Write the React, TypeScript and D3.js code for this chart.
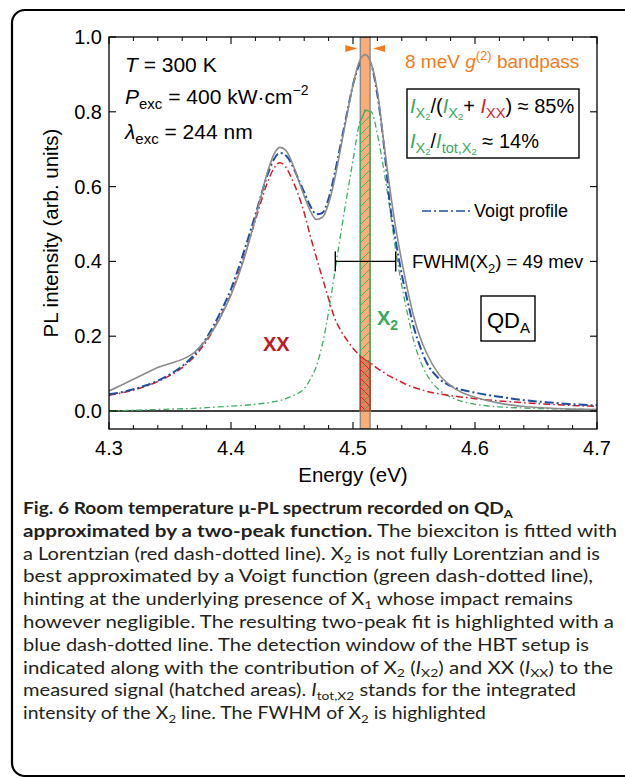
import React from 'react';
import * as d3 from 'd3';

// ---------- data ----------
const energy = [4.30, 4.31, 4.32, 4.33, 4.34, 4.35, 4.36, 4.37, 4.38, 4.39, 4.40, 4.41, 4.42, 4.43, 4.435, 4.44, 4.445, 4.45, 4.455, 4.46, 4.465, 4.47, 4.475, 4.48, 4.485, 4.49, 4.495, 4.50, 4.505, 4.51, 4.515, 4.52, 4.525, 4.53, 4.535, 4.54, 4.545, 4.55, 4.555, 4.56, 4.57, 4.58, 4.59, 4.60, 4.62, 4.64, 4.66, 4.68, 4.70];
const measured = [0.054, 0.069, 0.085, 0.101, 0.116, 0.127, 0.138, 0.157, 0.192, 0.242, 0.31, 0.40, 0.515, 0.64, 0.685, 0.705, 0.697, 0.665, 0.62, 0.575, 0.535, 0.512, 0.518, 0.555, 0.62, 0.705, 0.79, 0.872, 0.933, 0.953, 0.928, 0.855, 0.725, 0.60, 0.49, 0.40, 0.32, 0.25, 0.197, 0.157, 0.10, 0.068, 0.048, 0.037, 0.021, 0.012, 0.008, 0.005, 0.004];
const twoPeakFit = [0.045, 0.050, 0.058, 0.068, 0.081, 0.098, 0.12, 0.151, 0.196, 0.255, 0.326, 0.42, 0.525, 0.632, 0.672, 0.69, 0.683, 0.658, 0.622, 0.585, 0.548, 0.526, 0.53, 0.568, 0.635, 0.715, 0.795, 0.872, 0.925, 0.945, 0.925, 0.845, 0.72, 0.56, 0.455, 0.365, 0.29, 0.222, 0.172, 0.132, 0.088, 0.067, 0.056, 0.049, 0.038, 0.029, 0.023, 0.018, 0.015];
const lorentzXX = [0.042, 0.048, 0.056, 0.066, 0.079, 0.095, 0.116, 0.146, 0.187, 0.245, 0.313, 0.405, 0.51, 0.612, 0.648, 0.664, 0.652, 0.62, 0.58, 0.53, 0.468, 0.41, 0.355, 0.30, 0.248, 0.215, 0.19, 0.168, 0.15, 0.137, 0.127, 0.114, 0.104, 0.093, 0.085, 0.077, 0.069, 0.063, 0.058, 0.053, 0.046, 0.041, 0.037, 0.033, 0.027, 0.022, 0.018, 0.015, 0.012];
const voigtX2 = [0.000, 0.001, 0.002, 0.003, 0.004, 0.005, 0.006, 0.007, 0.009, 0.011, 0.013, 0.015, 0.018, 0.022, 0.025, 0.028, 0.033, 0.040, 0.047, 0.06, 0.085, 0.12, 0.18, 0.265, 0.37, 0.475, 0.575, 0.67, 0.765, 0.805, 0.80, 0.74, 0.65, 0.545, 0.43, 0.335, 0.255, 0.185, 0.135, 0.10, 0.058, 0.037, 0.025, 0.018, 0.011, 0.008, 0.006, 0.005, 0.004];

const xMajorTicks = [4.3, 4.4, 4.5, 4.6, 4.7];
const xMinorTicks = [4.32, 4.34, 4.36, 4.38, 4.42, 4.44, 4.46, 4.48, 4.52, 4.54, 4.56, 4.58, 4.62, 4.64, 4.66, 4.68];
const yMajorTicks = [0.0, 0.2, 0.4, 0.6, 0.8, 1.0];

const bandpass = [4.506, 4.514]; // 8 meV window
const fwhmRange = [4.4855, 4.535];
const fwhmLevel = 0.4;

type Seg = { t: string; b?: boolean; i?: boolean; sub?: boolean };
const captionLines: { segs: Seg[]; w: number }[] = [
  { segs: [{ t: 'Fig. 6 Room temperature \u03bc-PL spectrum recorded on QD', b: true }, { t: 'A', b: true, sub: true }], w: 490 },
  { segs: [{ t: 'approximated by a two-peak function.', b: true }, { t: ' The biexciton is fitted with' }], w: 594 },
  { segs: [{ t: 'a Lorentzian (red dash-dotted line). X' }, { t: '2', sub: true }, { t: ' is not fully Lorentzian and is' }], w: 577 },
  { segs: [{ t: 'best approximated by a Voigt function (green dash-dotted line),' }], w: 570 },
  { segs: [{ t: 'hinting at the underlying presence of X' }, { t: '1', sub: true }, { t: ' whose impact remains' }], w: 550 },
  { segs: [{ t: 'however negligible. The resulting two-peak fit is highlighted with a' }], w: 591 },
  { segs: [{ t: 'blue dash-dotted line. The detection window of the HBT setup is' }], w: 566 },
  { segs: [{ t: 'indicated along with the contribution of X' }, { t: '2', sub: true }, { t: ' (' }, { t: 'I', i: true }, { t: 'X2', sub: true }, { t: ') and XX (' }, { t: 'I', i: true }, { t: 'XX', sub: true }, { t: ') to the' }], w: 590 },
  { segs: [{ t: 'measured signal (hatched areas). ' }, { t: 'I', i: true }, { t: 'tot,X2', sub: true }, { t: ' stands for the integrated' }], w: 553 },
  { segs: [{ t: 'intensity of the X' }, { t: '2', sub: true }, { t: ' line. The FWHM of X' }, { t: '2', sub: true }, { t: ' is highlighted' }], w: 463 },
];

// ---------- layout ----------
const W = 625, H = 778;
const plot = { left: 109, right: 597, top: 37, bottom: 429 };
const FONT = '"Liberation Sans", Arial, Helvetica, sans-serif';
const C = {
  gray: '#8c8c8c', blue: '#1d4fa6', red: '#d0202a', green: '#3cae64',
  orange: '#f47b20', band: '#f9ad78', xxLabel: '#c0181f', greenText: '#3aa95f',
};

export default function App() {
  const x = d3.scaleLinear().domain([4.3, 4.7]).range([plot.left, plot.right]);
  const y = d3.scaleLinear().domain([0, 1]).range([411, 37]);

  const pts = (vals: number[]) => energy.map((e, k) => [e, vals[k]] as [number, number]);
  const line = d3.line<[number, number]>().x(d => x(d[0])).y(d => y(d[1])).curve(d3.curveMonotoneX);

  const interp = (vals: number[], e: number) => {
    const i = d3.bisectLeft(energy, e);
    if (i <= 0) return vals[0];
    if (i >= energy.length) return vals[vals.length - 1];
    const t = (e - energy[i - 1]) / (energy[i] - energy[i - 1]);
    return vals[i - 1] + t * (vals[i] - vals[i - 1]);
  };
  const bandE = d3.range(bandpass[0], bandpass[1] + 1e-9, 0.001);
  const areaFor = (vals: number[]) =>
    d3.area<number>().x(e => x(e)).y0(y(0)).y1(e => y(interp(vals, e)))(bandE) || '';

  const bx0 = x(bandpass[0]), bx1 = x(bandpass[1]);
  const arrowY = 48.5;

  const dashBlue = '9,3,2,3';
  const dashRed = '7,3,1.6,3';
  const dashGreen = '6,3,1.6,3';

  // open frame: top edge, left edge, bottom edge (right side runs off the page)
  const frame = 'M 640 10 L 25 10 A 13 13 0 0 0 12 23 L 12 763 A 13 13 0 0 0 25 776 L 640 776';

  return (
    <svg width={W} height={H} style={{ position: 'absolute', left: 0, top: 0, background: '#fff' }}
      fontFamily={FONT}>
      <defs>
        <pattern id="hatchG" patternUnits="userSpaceOnUse" width="9" height="9">
          <line x1="0" y1="9" x2="9" y2="0" stroke="#4caf60" strokeWidth="1" />
        </pattern>
        <pattern id="hatchR" patternUnits="userSpaceOnUse" width="9" height="9">
          <line x1="0" y1="0" x2="9" y2="9" stroke="#c62828" strokeWidth="1" />
        </pattern>
        <clipPath id="plotClip">
          <rect x={plot.left} y={plot.top} width={plot.right - plot.left} height={plot.bottom - plot.top} />
        </clipPath>
      </defs>

      <path d={frame} fill="none" stroke="#000" strokeWidth={2.2} />

      {/* curves */}
      <g clipPath="url(#plotClip)" fill="none">
        <line x1={plot.left} x2={plot.right} y1={y(0)} y2={y(0)} stroke="#000" strokeWidth={1.3} />
        <path d={line(pts(voigtX2)) || ''} stroke={C.green} strokeWidth={1.3} strokeDasharray={dashGreen} />
        <path d={line(pts(lorentzXX)) || ''} stroke={C.red} strokeWidth={1.5} strokeDasharray={dashRed} />
        <path d={line(pts(twoPeakFit)) || ''} stroke={C.blue} strokeWidth={2} strokeDasharray={dashBlue} />

        {/* bandpass window */}
        <rect x={bx0} y={plot.top} width={bx1 - bx0} height={plot.bottom - plot.top} fill={C.band} stroke="#8a8a8a" strokeWidth={1.4} />
        {/* X2 contribution */}
        <path d={areaFor(voigtX2)} fill="url(#hatchG)" stroke="#4faa63" strokeWidth={1.4} />
        {/* XX contribution */}
        <path d={areaFor(lorentzXX)} fill="#c7382e" fillOpacity={0.4} stroke="#c0302a" strokeWidth={1.2} />
        <path d={areaFor(lorentzXX)} fill="url(#hatchR)" stroke="none" />
        <path d={areaFor(lorentzXX)} fill="url(#hatchG)" stroke="none" opacity={0.6} />

        <path d={line(pts(measured)) || ''} stroke={C.gray} strokeWidth={1.6} />
      </g>

      {/* axes frame */}
      <rect x={plot.left} y={plot.top} width={plot.right - plot.left} height={plot.bottom - plot.top} fill="none" stroke="#000" strokeWidth={1.3} />

      {/* ticks */}
      {xMajorTicks.map(t => (
        <g key={'xM' + t}>
          <line x1={x(t)} x2={x(t)} y1={plot.bottom} y2={plot.bottom - 7} stroke="#000" strokeWidth={1.1} />
          <line x1={x(t)} x2={x(t)} y1={plot.top} y2={plot.top + 7} stroke="#000" strokeWidth={1.1} />
          <text x={x(t)} y={455} textAnchor="middle" fontSize={20}>{t.toFixed(1)}</text>
        </g>
      ))}
      {xMinorTicks.map(t => (
        <g key={'xm' + t}>
          <line x1={x(t)} x2={x(t)} y1={plot.bottom} y2={plot.bottom - 4} stroke="#000" strokeWidth={1} />
          <line x1={x(t)} x2={x(t)} y1={plot.top} y2={plot.top + 4} stroke="#000" strokeWidth={1} />
        </g>
      ))}
      {yMajorTicks.map(t => (
        <g key={'y' + t}>
          <line x1={plot.left} x2={plot.left + 7} y1={y(t)} y2={y(t)} stroke="#000" strokeWidth={1.1} />
          <line x1={plot.right} x2={plot.right - 7} y1={y(t)} y2={y(t)} stroke="#000" strokeWidth={1.1} />
          <text x={102} y={y(t) + 7} textAnchor="end" fontSize={20}>{t.toFixed(1)}</text>
        </g>
      ))}

      {/* axis titles */}
      <text x={(plot.left + plot.right) / 2} y={482} textAnchor="middle" fontSize={20.5}>Energy (eV)</text>
      <text transform={`translate(58,${(plot.top + plot.bottom) / 2}) rotate(-90)`} textAnchor="middle" fontSize={20.5}>PL intensity (arb. units)</text>

      {/* conditions */}
      <text x={125} y={72} fontSize={21}><tspan fontStyle="italic">T</tspan> = 300 K</text>
      <text x={125} y={104} fontSize={21}>
        <tspan fontStyle="italic">P</tspan><tspan fontSize={15} dy={5}>exc</tspan><tspan dy={-5}> = 400 kW</tspan><tspan>{'\u00b7'}</tspan><tspan>cm</tspan><tspan fontSize={14} dy={-9}>{'\u22122'}</tspan>
      </text>
      <text x={125} y={139} fontSize={21}>
        <tspan fontStyle="italic">{'\u03bb'}</tspan><tspan fontSize={15} dy={5}>exc</tspan><tspan dy={-5}> = 244 nm</tspan>
      </text>

      {/* bandpass label and arrows */}
      <text x={405} y={68} fontSize={19} fill={C.orange}>
        8 meV <tspan fontStyle="italic">g</tspan><tspan fontSize={13} dy={-8}>(2)</tspan><tspan dy={8}> bandpass</tspan>
      </text>
      <polygon points={`${bx0 - 15},${arrowY - 3.5} ${bx0 - 3},${arrowY} ${bx0 - 15},${arrowY + 3.5}`} fill={C.orange} />
      <polygon points={`${bx1 + 15},${arrowY - 3.5} ${bx1 + 3},${arrowY} ${bx1 + 15},${arrowY + 3.5}`} fill={C.orange} />

      {/* ratio box */}
      <rect x={407} y={89} width={172} height={69} fill="#fff" stroke="#000" strokeWidth={1.4} />
      <text x={410} y={113} fontSize={20}>
        <tspan fill={C.greenText} fontStyle="italic">I</tspan>
        <tspan fill={C.greenText} fontSize={14.5} dy={5}>X</tspan>
        <tspan fill={C.greenText} fontSize={9.5} dy={2}>2</tspan>
        <tspan dy={-7}>/(</tspan>
        <tspan fill={C.greenText} fontStyle="italic">I</tspan>
        <tspan fill={C.greenText} fontSize={14.5} dy={5}>X</tspan>
        <tspan fill={C.greenText} fontSize={9.5} dy={2}>2</tspan>
        <tspan dy={-7}>+ </tspan>
        <tspan fill={C.red} fontStyle="italic">I</tspan>
        <tspan fill={C.red} fontSize={14.5} dy={5}>XX</tspan>
        <tspan dy={-5}>) {'\u2248'} 85%</tspan>
      </text>
      <text x={410} y={148} fontSize={20}>
        <tspan fill={C.greenText} fontStyle="italic">I</tspan>
        <tspan fill={C.greenText} fontSize={14.5} dy={5}>X</tspan>
        <tspan fill={C.greenText} fontSize={9.5} dy={2}>2</tspan>
        <tspan dy={-7}>/</tspan>
        <tspan fill={C.greenText} fontStyle="italic">I</tspan>
        <tspan fill={C.greenText} fontSize={14.5} dy={5}>tot,X</tspan>
        <tspan fill={C.greenText} fontSize={9.5} dy={2}>2</tspan>
        <tspan dy={-7}> {'\u2248'} 14%</tspan>
      </text>

      {/* Voigt legend */}
      <line x1={422} x2={470} y1={211} y2={211} stroke={C.blue} strokeWidth={1.6} strokeDasharray="9,3,2,3" />
      <text x={474} y={217} fontSize={18}>Voigt profile</text>

      {/* FWHM */}
      <line x1={x(fwhmRange[0])} x2={x(fwhmRange[1])} y1={y(fwhmLevel)} y2={y(fwhmLevel)} stroke="#000" strokeWidth={1.4} />
      <line x1={x(fwhmRange[0])} x2={x(fwhmRange[0])} y1={y(fwhmLevel) - 10} y2={y(fwhmLevel) + 10} stroke="#000" strokeWidth={1.4} />
      <line x1={x(fwhmRange[1])} x2={x(fwhmRange[1])} y1={y(fwhmLevel) - 10} y2={y(fwhmLevel) + 10} stroke="#000" strokeWidth={1.4} />
      <text x={412} y={268} fontSize={18.5}>
        FWHM(X<tspan fontSize={13} dy={5}>2</tspan><tspan dy={-5}>) = 49 mev</tspan>
      </text>

      {/* QD_A box */}
      <rect x={481} y={296} width={54} height={45} fill="#fff" stroke="#000" strokeWidth={1.4} />
      <text x={487} y={328} fontSize={22}>QD<tspan fontSize={15} dy={5}>A</tspan></text>

      {/* peak labels */}
      <text x={377} y={325} fontSize={20} fontWeight="bold" fill={C.greenText}>X<tspan fontSize={14} dy={5}>2</tspan></text>
      <text x={263} y={351} fontSize={20} fontWeight="bold" fill={C.xxLabel}>XX</text>

      {/* caption */}
      {captionLines.map((ln, k) => (
        <text key={k} x={23} y={514 + k * 22.8} fontSize={17.5} fontFamily='Lato, "Open Sans", sans-serif'
          textLength={ln.w} lengthAdjust="spacingAndGlyphs" fill="#231f20">
          {ln.segs.map((s, j) => {
            const prevSub = j > 0 && ln.segs[j - 1].sub;
            const dy = s.sub ? 3.5 : prevSub ? -3.5 : 0;
            return (
              <tspan key={j} fontWeight={s.b ? 'bold' : 'normal'} fontStyle={s.i ? 'italic' : 'normal'}
                fontSize={s.sub ? 12 : undefined} dy={dy || undefined}>{s.t}</tspan>
            );
          })}
        </text>
      ))}
    </svg>
  );
}
